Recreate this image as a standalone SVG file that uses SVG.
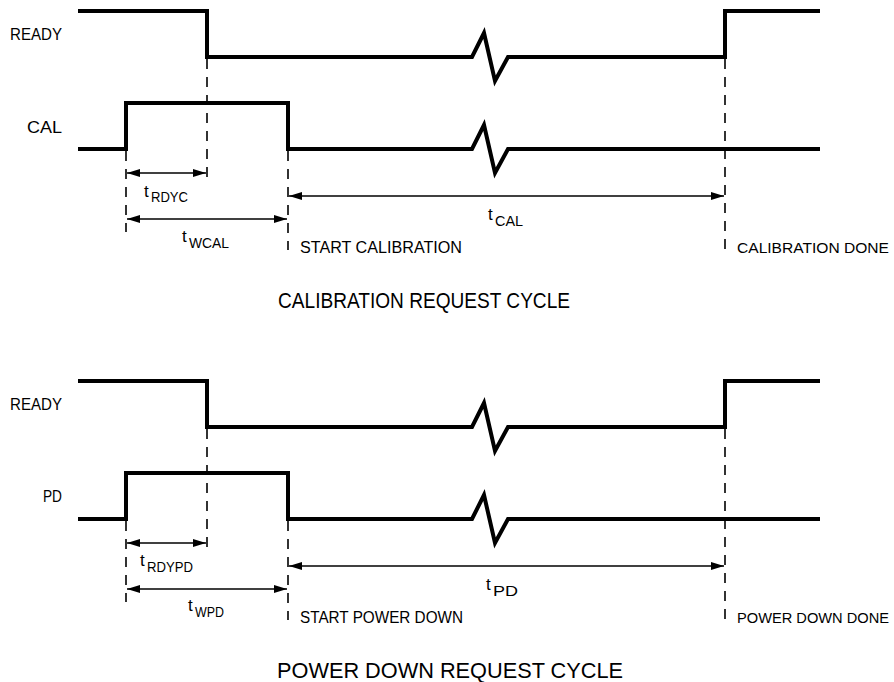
<svg xmlns="http://www.w3.org/2000/svg" width="894" height="682" viewBox="0 0 894 682">
<style>
.sig{fill:none;stroke:#000;stroke-width:4;stroke-linejoin:miter}
.dash{fill:none;stroke:#000;stroke-width:1.6;stroke-dasharray:10 8}
.dim{fill:none;stroke:#000;stroke-width:1.5;marker-start:url(#ah);marker-end:url(#ah)}
text{font-family:"Liberation Sans",Arial,sans-serif;fill:#000}
.lbl{font-size:16px}
.lbs{font-size:15px}
.ttl{font-size:22px}
.t{font-size:17px}
.sub{font-size:14px}
</style>
<defs>
<marker id="ah" markerUnits="userSpaceOnUse" markerWidth="14" markerHeight="9" refX="13" refY="4" orient="auto-start-reverse">
<path d="M0,0 L13,4 L0,8 Z" fill="#000"/>
</marker>
</defs>
<rect width="894" height="682" fill="#fff"/>

<g id="calibration-cycle">
<g id="cal-signals">
<path class="sig" d="M78,11 H207 V57 H472 L484,33 L495,81 L508,57 H725 V11 H820"/>
<path class="sig" d="M78,149 H126 V103 H288 V149 H472 L484,125 L495,173 L508,149 H820"/>
</g>
<g id="cal-connectors">
<line class="dash" x1="126" y1="151" x2="126" y2="232"/>
<line class="dash" x1="207" y1="59" x2="207" y2="185"/>
<line class="dash" x1="288" y1="151" x2="288" y2="250"/>
<line class="dash" x1="725" y1="59" x2="725" y2="250"/>
<line class="dim" x1="127" y1="173" x2="206" y2="173"/>
<line class="dim" x1="127" y1="219" x2="287" y2="219"/>
<line class="dim" x1="289" y1="196" x2="724" y2="196"/>
</g>
<g id="cal-labels">
<text class="lbl" x="10" y="40" textLength="52" lengthAdjust="spacingAndGlyphs">READY</text>
<text class="lbl" x="27" y="133" textLength="35" lengthAdjust="spacingAndGlyphs">CAL</text>
<text class="t" x="144" y="197">t</text><text class="sub" x="151" y="202" textLength="37" lengthAdjust="spacingAndGlyphs">RDYC</text>
<text class="t" x="182" y="242">t</text><text class="sub" x="189" y="248" textLength="40" lengthAdjust="spacingAndGlyphs">WCAL</text>
<text class="t" x="488" y="220">t</text><text class="sub" x="495" y="226" textLength="28" lengthAdjust="spacingAndGlyphs">CAL</text>
<text class="lbl" x="300" y="253" textLength="162" lengthAdjust="spacingAndGlyphs">START CALIBRATION</text>
<text class="lbs" x="737" y="253" textLength="152" lengthAdjust="spacingAndGlyphs">CALIBRATION DONE</text>
<text class="ttl" x="278" y="308" textLength="292" lengthAdjust="spacingAndGlyphs">CALIBRATION REQUEST CYCLE</text>
</g>
</g>

<g id="powerdown-cycle">
<g id="pd-signals">
<path class="sig" d="M78,381 H207 V427 H472 L484,403 L495,451 L508,427 H725 V381 H820"/>
<path class="sig" d="M78,519 H126 V473 H288 V519 H472 L484,495 L495,543 L508,519 H820"/>
</g>
<g id="pd-connectors">
<line class="dash" x1="126" y1="521" x2="126" y2="602"/>
<line class="dash" x1="207" y1="429" x2="207" y2="555"/>
<line class="dash" x1="288" y1="521" x2="288" y2="620"/>
<line class="dash" x1="725" y1="429" x2="725" y2="620"/>
<line class="dim" x1="127" y1="543" x2="206" y2="543"/>
<line class="dim" x1="127" y1="589" x2="287" y2="589"/>
<line class="dim" x1="289" y1="566" x2="724" y2="566"/>
</g>
<g id="pd-labels">
<text class="lbl" x="10" y="410" textLength="52" lengthAdjust="spacingAndGlyphs">READY</text>
<text class="lbl" x="43" y="502" textLength="19" lengthAdjust="spacingAndGlyphs">PD</text>
<text class="t" x="140" y="566">t</text><text class="sub" x="147" y="572" textLength="46" lengthAdjust="spacingAndGlyphs">RDYPD</text>
<text class="t" x="188" y="611">t</text><text class="sub" x="195" y="617" textLength="29" lengthAdjust="spacingAndGlyphs">WPD</text>
<text class="t" x="486" y="590">t</text><text class="sub" x="493" y="596" textLength="25" lengthAdjust="spacingAndGlyphs">PD</text>
<text class="lbl" x="300" y="623" textLength="163" lengthAdjust="spacingAndGlyphs">START POWER DOWN</text>
<text class="lbs" x="737" y="623" textLength="152" lengthAdjust="spacingAndGlyphs">POWER DOWN DONE</text>
<text class="ttl" x="277" y="678" textLength="346" lengthAdjust="spacingAndGlyphs">POWER DOWN REQUEST CYCLE</text>
</g>
</g>
</svg>
